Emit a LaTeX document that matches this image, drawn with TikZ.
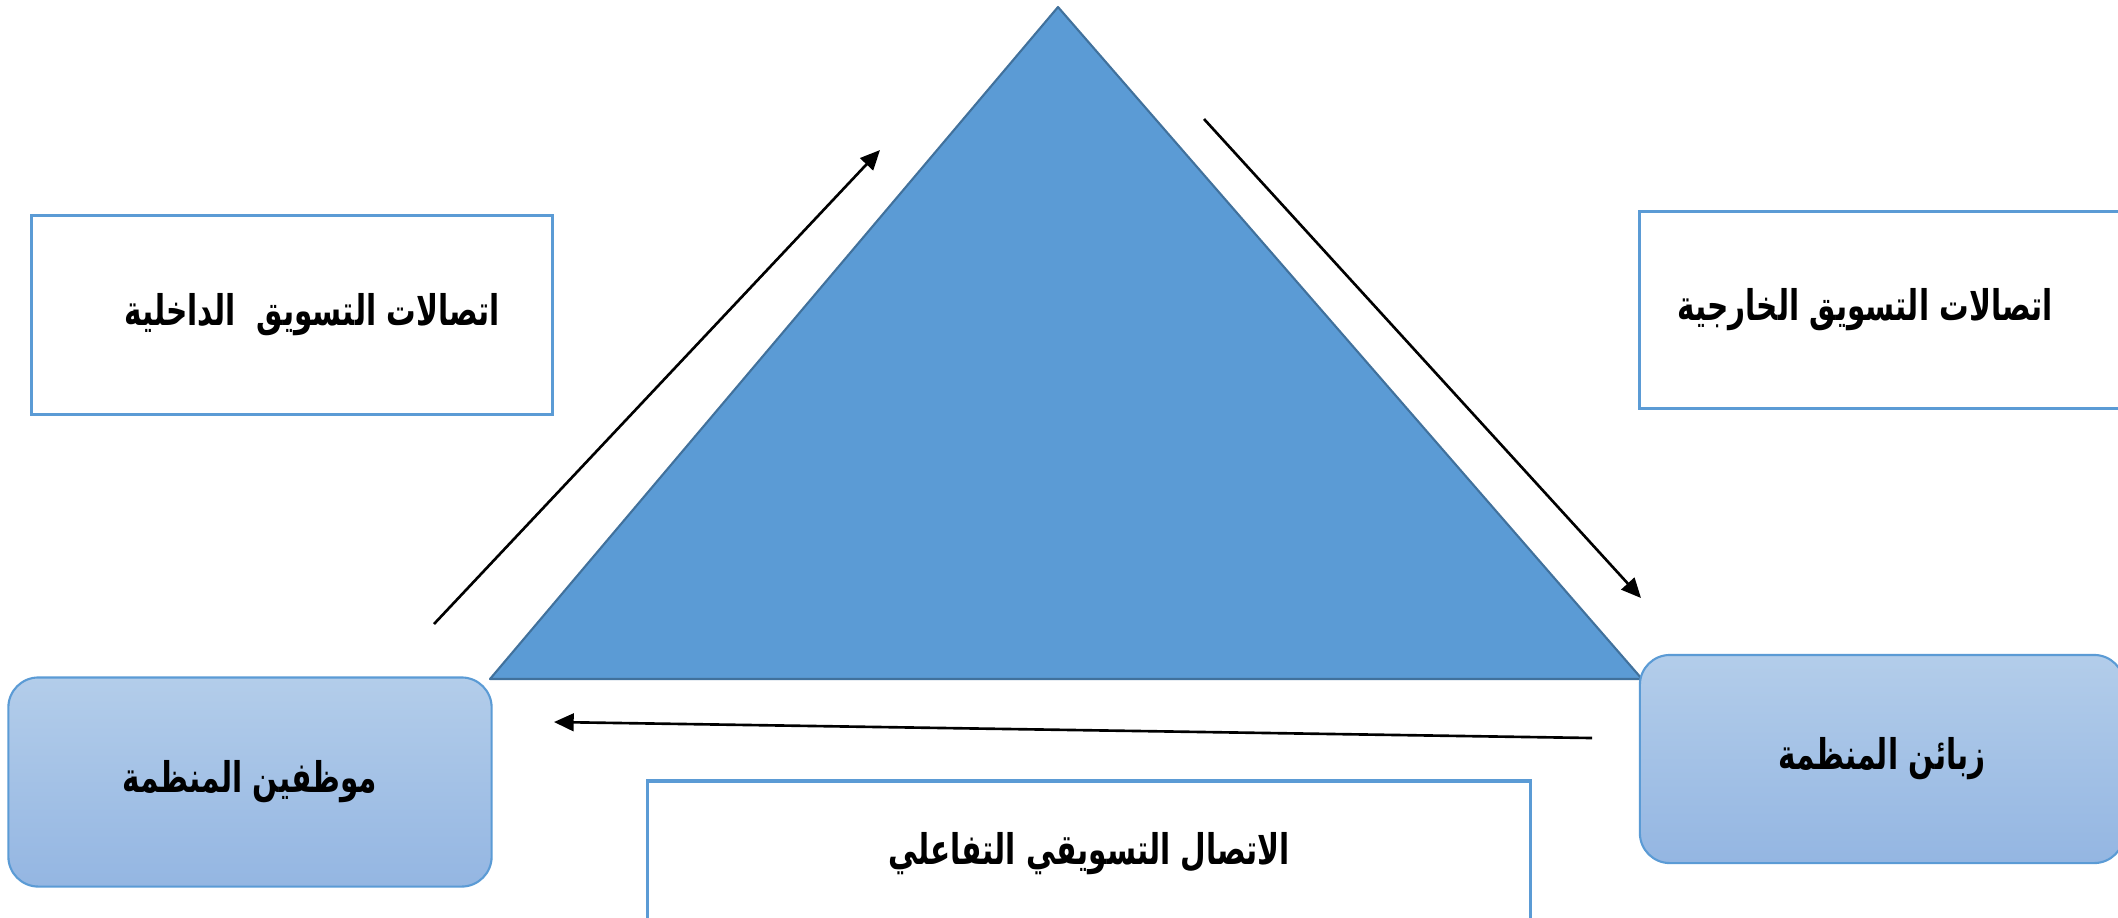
\documentclass[tikz,border=0pt]{standalone}
\usepackage{fontspec}
\newfontfamily\arabicfont[Script=Arabic, FakeStretch=0.7]{DejaVu Sans}
\TeXXeTstate=1
\usetikzlibrary{arrows.meta}

\begin{document}
\begin{tikzpicture}[
    x=0.01cm, y=-0.01cm,
    every node/.style={font=\arabicfont\bfseries\fontsize{12}{14}\selectfont},
]

\definecolor{c1}{HTML}{5B9BD5}   % triangle and box borders
\definecolor{c2}{HTML}{41719C}   % triangle edge
\definecolor{c3}{HTML}{B3CDEA}   % rounded boxes, top
\definecolor{c4}{HTML}{94B6E2}   % rounded boxes, bottom

\tikzset{
  plainbox/.style={draw=c1, line width=0.9pt, fill=white, inner sep=0pt},
  roundbox/.style={draw=c1, line width=0.6pt, rounded corners=0.3cm,
                   top color=c3, bottom color=c4, inner sep=0pt},
  flow/.style={-{Triangle[length=5.6pt, width=5pt]}, line width=0.75pt},
}

% page, in pixels of the original (y grows downwards)
\clip (0,0) rectangle (2118,917);

% ---------------------------------------------------------------- triangle
\coordinate (apex)  at (1058,7);
\coordinate (baseL) at (490,679);
\coordinate (baseR) at (1642,679);
\filldraw[fill=c1, draw=c2, line width=0.6pt, line join=round]
    (apex) -- (baseR) -- (baseL) -- cycle;

% ---------------------------------------------------------------- boxes
\node[plainbox, minimum width=5.20cm, minimum height=1.99cm] (inner)
    at (292,315) {\hspace*{0.4cm}\beginR اتصالات التسويق\ \ الداخلية\endR};
\node[plainbox, minimum width=4.90cm, minimum height=1.97cm] (outer)
    at (1885,310) {\beginR اتصالات التسويق الخارجية\endR\hspace*{0.4cm}};
\node[plainbox, minimum width=8.82cm, minimum height=1.46cm] (inter)
    at (1089,854) {\beginR الاتصال التسويقي التفاعلي\endR};

\node[roundbox, minimum width=4.83cm, minimum height=2.09cm] (staff)
    at (250,782) {\beginR موظفين المنظمة\endR};
\node[roundbox, minimum width=4.84cm, minimum height=2.08cm] (clients)
    at (1882,759) {\beginR زبائن المنظمة\endR};

% ---------------------------------------------------------------- arrows
\coordinate (upFrom)   at (434,624);
\coordinate (upTo)     at (880,150);
\coordinate (downFrom) at (1204,119);
\coordinate (downTo)   at (1641,598);
\coordinate (backFrom) at (1592,738);
\coordinate (backTo)   at (554,722);

\draw[flow] (upFrom) -- (upTo);
\draw[flow] (downFrom) -- (downTo);
\draw[flow] (backFrom) -- (backTo);

\end{tikzpicture}
\end{document}
